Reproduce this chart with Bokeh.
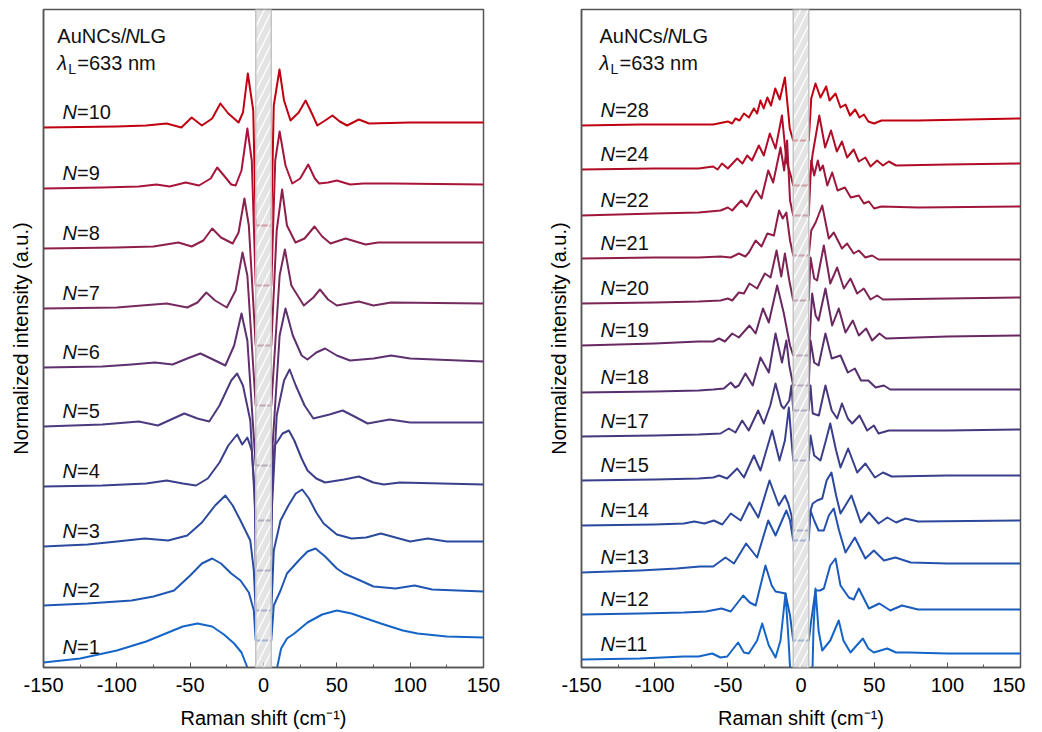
from bokeh.plotting import figure
from bokeh.layouts import row
from bokeh.models import Range1d, BoxAnnotation, FixedTicker, PrintfTickFormatter
from bokeh.core.properties import value
from bokeh.embed import file_html
from bokeh.resources import INLINE

# ---------------- data: left panel (N = 1 ... 10) ----------------
shift_N1 = [-150,-125,-100,-80,-65,-55,-45,-35,-27,-20,-15,-11,-8,-5.3,5.3,8,9.3,12,16,21,30,40,50,60,70,80,95,105,125,150]
int_N1 = [5,9,17,26,35,41,44,41,33,24,15,0,-23,-33,-33,-23,0,19,29,34,45,53,57,54,49,44,37,34,31,30]

shift_N2 = [-150,-120,-90,-75,-61,-50,-42,-35,-29,-22,-15.7,-10,-6.6,-5.3,5.3,7,11.6,16,24,30,35.5,42,50,55,66,75,90,103,115,150]
int_N2 = [62,64,67,71,77,92,104,109,104,94,87,75,57,27,27,62,77,94,107,116,119,111,99,94,87,81,79,82,78,76]

shift_N3 = [-150,-120,-100,-81,-65,-52,-42,-33,-26,-21,-15.7,-9,-6.6,-5.3,5.3,7,11.6,17,22,26.4,31,36,41,50,60,70,80,90,100,112,125,150]
int_N3 = [121,123,126,129,127,132,145,162,172,162,147,127,97,57,57,117,147,162,174,178,169,155,144,133,129,130,134,130,126,129,126,126]

shift_N4 = [-150,-110,-80,-66,-55,-46,-38,-30,-24,-18,-14.5,-11,-8,-6,-5.3,5.3,6,7.5,10,13,17.3,21,26,30,36,42,55,65,75,82,93,150]
int_N4 = [181,182,184,187,184,182,189,205,222,233,223,230,217,177,97,97,197,222,227,234,237,227,209,197,189,185,188,191,185,183,185,183]

shift_N5 = [-150,-110,-85,-72,-54,-45,-37,-30,-22,-18,-14,-9,-5.3,5.3,9,14,17.8,22,28,34,45,54,62,71,86,100,150]
int_N5 = [241,243,246,242,254,249,246,262,287,294,282,247,147,147,252,287,298,282,262,249,253,257,251,244,248,245,245]

shift_N6 = [-150,-110,-90,-74,-62,-52,-43,-33,-26,-20,-15,-11,-5.3,5.3,11,15,20,26,30,36,42,50,59,75,87,100,150]
int_N6 = [300,301,303,305,303,309,314,307,302,322,354,327,202,202,332,359,332,312,308,315,319,312,307,309,312,309,306]

shift_N7 = [-150,-100,-66,-52,-45,-39,-33,-25,-19,-14.3,-11,-5.3,5.3,11,14.6,19,27.5,34,38.5,44,50,65,75,87,150]
int_N7 = [359,360,364,360,365,375,367,360,377,415,392,262,262,392,418,382,362,370,378,368,362,366,362,365,364]

shift_N8 = [-150,-100,-75,-58,-49,-41,-35,-29,-21,-17,-13,-10,-5.3,5.3,9,12.7,16,21.8,28,34.8,40,45.7,56,69.6,78,150]
int_N8 = [419,420,421,425,421,427,439,430,424,435,469,442,322,322,437,478,442,425,429,441,431,424,429,423,425,425]

shift_N9 = [-150,-110,-85,-73,-64,-53,-44,-36,-31.6,-27,-22,-19,-15,-11,-8,-5.3,5.3,8,11,15,19.6,25,30.5,35,38,44,50,59,68,88,150]
int_N9 = [479,480,481,483,481,485,482,489,500,492,483,482,497,539,507,382,382,507,536,502,484,489,503,489,484,485,487,483,484,484,483]

shift_N10 = [-150,-100,-80,-66,-56,-49,-42,-35,-29.4,-24,-17,-14,-10.7,-7,-5.3,5.3,7,10.9,14,18.4,24,28.7,33,36.7,42,47,52,57,65,72,100,150]
int_N10 = [540,541,542,544,540,550,542,549,564,554,545,555,594,557,442,442,562,598,567,547,555,567,554,542,547,552,546,542,548,544,545,545]

# ---------------- data: right panel (N = 11 ... 28) ----------------
shift_N11 = [-150,-110,-80,-70,-60.7,-55,-50.4,-43,-39,-35.7,-30,-26.5,-22,-17.4,-14,-10.6,-8.5,-7,-5.3,5.3,7.5,8.5,9.9,12,14.5,20,25.8,29,33.8,38,42.3,46,49.8,58.9,65,73.7,100,150]
int_N11 = [8,9,11,11,14,10,11,25,15,14,27,44,22,10,27,74,27,-13,-43,-43,-23,37,79,37,17,27,47,27,15,22,29,19,15,19,15,15,14,14]

shift_N12 = [-150,-110,-80,-65,-54.3,-48,-39.5,-35,-31,-24.3,-20,-17.4,-14,-10.6,-7.5,-5.3,5.3,7,9.9,13,15.6,20,23.6,27,32.7,36,39.5,46.4,53.6,61,69,80,150]
int_N12 = [53,54,55,56,59,56,72,65,62,102,82,76,75,74,52,27,27,47,77,77,79,102,109,82,70,68,79,59,64,57,62,58,58]

shift_N13 = [-150,-110,-85,-69,-60,-51.6,-45.8,-37.5,-30,-22.4,-17.4,-13,-10,-7.5,-5.3,5.3,6.5,9,12,15.6,19,22.4,26,30.4,36.8,44,49.8,56.7,64.6,75,100,150]
int_N13 = [95,97,99,101,101,110,104,124,110,147,132,147,157,147,127,127,157,147,137,137,152,159,137,115,130,109,117,107,110,105,104,104]

shift_N14 = [-150,-100,-80,-73,-66,-59.6,-53.8,-48,-41.2,-35.2,-29.2,-21.5,-15.2,-11,-8.7,-6.5,-5.3,5.3,6.5,8,11,14.5,17.5,20.8,24,27,34.5,40.8,46.4,53,59,65,71.4,80,150]
int_N14 = [142,143,144,146,144,147,143,154,147,165,150,187,162,172,164,152,137,137,157,164,167,169,187,195,172,154,172,145,155,144,150,145,149,146,147]

shift_N15 = [-150,-100,-70,-60,-56,-50.5,-43.6,-39,-32.2,-27.7,-19.7,-14.7,-11,-8.3,-6.5,-5.3,5.3,6.5,9,13.3,17,20,24,27,32.2,38.4,44,50.5,56,62,100,150]
int_N15 = [187,188,189,190,192,189,199,190,212,197,237,207,227,260,227,207,207,232,212,207,227,244,217,200,219,195,204,190,195,191,192,192]

shift_N17 = [-150,-100,-70,-55,-49.3,-44.8,-40.2,-35.7,-29.3,-25.4,-21,-17.4,-13.5,-11.7,-8,-6.5,-5.3,5.3,6.5,8,12.2,16.7,21,24.7,28,32,35,40,45.2,49.8,53,60,100,150]
int_N17 = [231,232,233,234,239,235,247,237,257,244,262,284,262,259,267,282,257,257,282,254,252,282,257,249,264,249,244,252,237,242,234,237,237,238]

shift_N18 = [-150,-100,-70,-60,-52.7,-48,-45,-42.5,-38,-33,-27.7,-22,-17.4,-13,-10,-8,-5.3,5.3,6.5,9,12,16.7,21,27,32,36.8,41,46,51,56.6,61,100,150]
int_N18 = [275,276,277,278,279,285,280,282,294,282,310,295,334,305,327,302,282,282,327,305,302,334,309,312,295,299,287,287,280,282,278,278,278]

shift_N19 = [-150,-100,-70,-60,-56,-52,-47,-42.5,-35.2,-31,-26,-22,-16.3,-11.7,-9.5,-7.5,-5.3,5.3,7.6,10,12,16.7,21.3,25.8,30.4,35.4,39.5,44.5,48.6,53.6,58,100,150]
int_N19 = [322,324,326,326,329,326,334,330,342,334,359,345,382,354,337,322,312,312,374,352,347,379,342,359,335,347,332,339,327,334,329,331,332]

shift_N20 = [-150,-100,-70,-55,-50,-47,-42.5,-39,-35.2,-30,-24.7,-20.8,-16.7,-13.5,-11,-8,-5.3,5.3,6.5,9,11,15.6,20,24.7,29.3,33.8,38.4,42.9,47.5,52,56,100,150]
int_N20 = [364,365,366,367,369,367,375,374,384,379,394,390,417,391,414,387,367,367,410,389,387,422,384,400,379,389,374,379,368,372,368,369,370]

shift_N21 = [-150,-100,-70,-55,-48,-42.5,-38,-35.6,-31,-27,-23,-18.5,-15,-12.5,-10,-7.5,-5.3,5.3,7,10,14.5,19,22.4,28,31.5,36,39.5,44,48.6,53,100,150]
int_N21 = [409,410,410,411,410,414,411,415,427,421,434,432,457,449,455,427,412,412,437,445,462,429,435,419,424,414,417,410,412,408,408,408]

shift_N22 = [-150,-100,-70,-55,-50,-47,-44,-40.8,-37,-33,-30.6,-27,-22.4,-19,-14,-11.5,-9.5,-7.5,-5.3,5.3,7,9,11.5,13,15,18,21.3,25,30,34,39.5,43,46.4,50,55,80,150]
int_N22 = [452,454,455,457,460,457,462,467,461,472,477,469,497,485,520,497,527,467,452,452,507,492,507,497,502,482,495,477,480,470,472,464,466,459,461,460,461]

shift_N24 = [-150,-100,-70,-60,-57,-54,-50,-43.6,-40,-36.8,-33.5,-28.8,-25.4,-21.3,-17.4,-13,-10,-7,-5.3,5.3,8,12.5,16.5,20.5,24.5,28,31.5,36,39.5,44,47.5,52,56,60,65,100,150]
int_N24 = [498,499,499,501,498,504,499,509,504,512,507,522,512,534,519,552,507,492,482,482,514,552,520,537,516,526,510,518,506,510,501,507,502,506,502,503,504]

shift_N28 = [-150,-110,-80,-60,-50,-47,-44.8,-42,-39,-35.6,-32.2,-30,-27.7,-25.5,-23,-20.5,-17.6,-14.5,-11,-8.5,-7.7,-5.3,5.3,7,9.9,13.3,17.2,19.5,23.6,27,30.4,33.5,37,40,43,46,50,55,80,150]
int_N28 = [542,543,543,543,546,544,549,547,554,550,559,554,567,559,570,562,579,568,590,552,539,527,527,569,584,570,581,567,574,560,563,552,558,550,553,546,544,547,547,549]

left_layers = [1, 2, 3, 4, 5, 6, 7, 8, 9, 10]
right_layers = [11, 12, 13, 14, 15, 17, 18, 19, 20, 21, 22, 24, 28]

left_colors = ["#1565C8", "#1E57B4", "#2A4A9E", "#3A3F8C", "#4B3A80",
               "#5E3070", "#772A5E", "#8E1F4A", "#A8143A", "#C00010"]
right_colors = ["#1565C8", "#1A5CBE", "#2351AE", "#2C489C", "#383F8C", "#47387E",
                "#562F70", "#6A2862", "#7B2556", "#8E1E48", "#A0163A", "#B00C28", "#C00010"]

x_ticks = [-150, -100, -50, 0, 50, 100, 150]
notch_half_width = 5.3

spectra = {n: (globals()["shift_N%d" % n], globals()["int_N%d" % n])
           for n in left_layers + right_layers}

FONT = value("Liberation Sans")


def make_panel(layers, colors, border_left, border_right, frame_w, title_x):
    p = figure(frame_width=frame_w, frame_height=658, output_backend="svg",
               toolbar_location=None, x_range=Range1d(-150, 150),
               y_range=Range1d(0, 658), min_border_left=border_left,
               min_border_right=border_right, min_border_top=9, min_border_bottom=0)
    p.grid.visible = False
    p.outline_line_color = "#555555"
    p.outline_line_width = 1.5
    p.background_fill_color = "white"
    p.border_fill_color = "white"

    xa = p.xaxis[0]
    xa.ticker = FixedTicker(ticks=x_ticks, minor_ticks=list(range(-150, 151, 25)))
    xa.formatter = PrintfTickFormatter(format="%d")
    xa.axis_label = "Raman shift (cm\u207b\u00b9)"
    xa.axis_label_text_font = "Liberation Sans"
    xa.axis_label_text_font_size = "20px"
    xa.axis_label_text_font_style = "normal"
    xa.axis_label_text_color = "black"
    xa.axis_label_standoff = 12
    xa.major_label_text_font = "Liberation Sans"
    xa.major_label_text_font_size = "20px"
    xa.major_label_text_color = "black"
    xa.major_label_standoff = 10
    xa.major_tick_in = 5
    xa.major_tick_out = 0
    xa.minor_tick_in = 3
    xa.minor_tick_out = 0
    xa.axis_line_color = "#555555"
    xa.axis_line_width = 1.5
    xa.major_tick_line_color = "#555555"
    xa.minor_tick_line_color = "#555555"

    ya = p.yaxis[0]
    ya.ticker = FixedTicker(ticks=[])
    ya.axis_label = "Normalized intensity (a.u.)"
    ya.axis_label_text_font = "Liberation Sans"
    ya.axis_label_text_font_size = "20px"
    ya.axis_label_text_font_style = "normal"
    ya.axis_label_text_color = "black"
    ya.axis_label_standoff = 12
    ya.major_tick_line_color = None
    ya.minor_tick_line_color = None
    ya.axis_line_color = "#555555"
    ya.axis_line_width = 1.5

    for n, col in zip(layers, colors):
        xs, ys = spectra[n]
        p.line(xs, ys, line_color=col, line_width=2.0, line_join="round")
        ly = ys[0] + 16
        p.text(x=[-137], y=[ly], text=["N"], text_font=FONT, text_font_size="20px",
               text_font_style="italic", text_baseline="middle", text_align="left",
               text_color="#111111")
        p.text(x=[-137], y=[ly], text=["=%d" % n], text_font=FONT, text_font_size="20px",
               text_baseline="middle", text_align="left", text_color="#111111",
               x_offset=14.4)

    band = BoxAnnotation(left=-notch_half_width, right=notch_half_width,
                         fill_color="#dadada", fill_alpha=0.72,
                         line_color="#c4c4c4", line_width=1.5, line_alpha=1.0,
                         hatch_pattern="/", hatch_color="white", hatch_alpha=0.9,
                         hatch_scale=16, hatch_weight=1.5)
    p.add_layout(band)

    # title texts
    ty1, ty2 = 632, 605
    kw = dict(text_font=FONT, text_font_size="20px", text_baseline="middle",
              text_align="left", text_color="#111111")
    p.text(x=[title_x], y=[ty1], text=["AuNCs/"], **kw)
    p.text(x=[title_x], y=[ty1], text=["N"], text_font_style="italic", x_offset=68, **kw)
    p.text(x=[title_x], y=[ty1], text=["LG"], x_offset=82, **kw)
    p.text(x=[title_x], y=[ty2], text=["\u03bb"], text_font_style="italic", **kw)
    kw_sub = dict(kw)
    kw_sub["text_font_size"] = "14px"
    p.text(x=[title_x], y=[ty2], text=["L"], x_offset=11, y_offset=6, **kw_sub)
    p.text(x=[title_x], y=[ty2], text=["=633 nm"], x_offset=20, **kw)
    return p


p1 = make_panel(left_layers, left_colors, 43, 45, 440, -140.6)
p2 = make_panel(right_layers, right_colors, 53, 5, 439, -137.7)

layout = row(p1, p2)
open("out.html", "w").write(file_html(layout, INLINE))
